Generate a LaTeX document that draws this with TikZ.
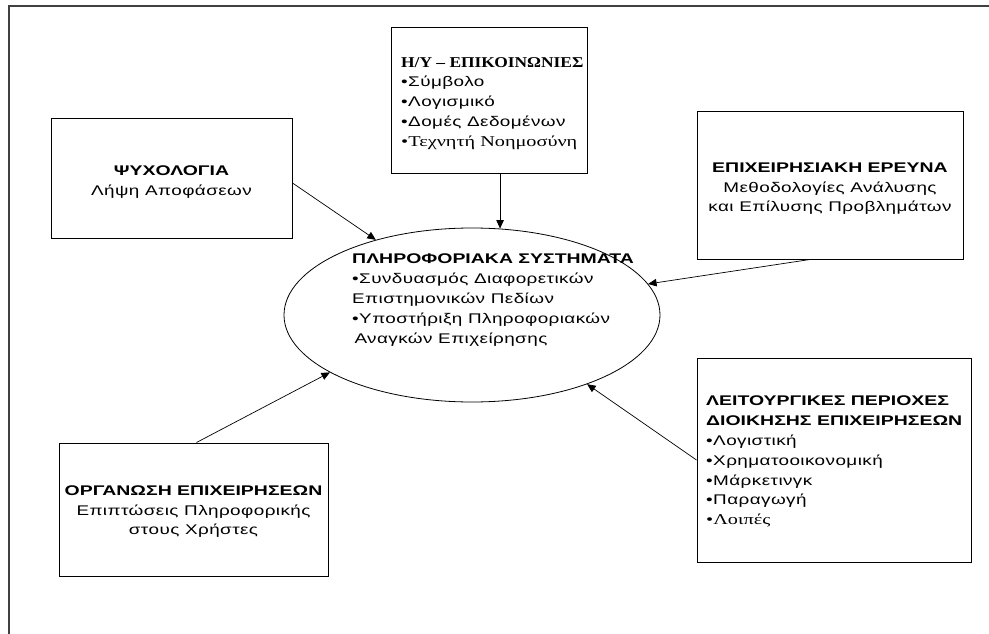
\documentclass[tikz,border=0pt]{standalone}
\usepackage{fontspec}
\setmainfont{Liberation Sans}[FakeStretch=1.35, LetterSpace=3, BoldFeatures={FakeStretch=1.39, LetterSpace=0}]
\newfontfamily\serifgr{Liberation Serif}[FakeStretch=1.35, BoldFeatures={FakeStretch=1.16}]
\usetikzlibrary{shapes.geometric,arrows.meta,calc}

\begin{document}
\begin{tikzpicture}[x=1pt,y=-1pt,
  box/.style={draw, line width=1pt, rectangle, inner sep=0pt},
  txt/.style={font=\fontsize{14}{19.5}\selectfont, align=center, inner sep=0pt},
  ltxt/.style={font=\fontsize{14}{19.8}\selectfont, align=left, inner sep=0pt},
  link/.style={line width=0.7pt, -{Triangle[length=8.5pt,width=7.5pt]}}
]
\useasboundingbox (0,0) rectangle (989,634);
\fill[white] (0,0) rectangle (989,634);

% page frame (top and left edges only)
\draw[line width=1.3pt, black!75] (989,6) -- (9,6) -- (9,634);

% central ellipse
\node[draw, ellipse, line width=0.8pt, minimum width=376pt, minimum height=174pt, inner sep=0pt] (ie) at (472,315) {};
\node[ltxt, anchor=north west] (iet) at (352,254) {%
\textbf{ΠΛΗΡΟΦΟΡΙΑΚΑ ΣΥΣΤΗΜΑΤΑ}\\
•Συνδυασμός Διαφορετικών\\
Επιστημονικών Πεδίων\\
•Υποστήριξη Πληροφοριακών\\
\,Αναγκών Επιχείρησης};

% top box
\node[box, minimum width=196pt, minimum height=145pt] (hy) at (489,100.5) {};
\node[ltxt, anchor=north west] (hyt) at (401,57) {%
{\serifgr\fontsize{15}{19.8}\selectfont\textbf{Η/Υ – ΕΠΙΚΟΙΝΩΝΙΕΣ}}\\
•Σύμβολο\\
•Λογισμικό\\
•Δομές Δεδομένων\\
{\serifgr\fontsize{15}{19.8}\selectfont •Τεχνητή Νοημοσύνη}};

% upper left box
\node[box, minimum width=241pt, minimum height=119pt] (psy) at (171.5,178.5) {};
\node[txt] (psyt) at (171.5,182) {\textbf{ΨΥΧΟΛΟΓΙΑ}\\Λήψη Αποφάσεων};

% upper right box
\node[box, minimum width=266pt, minimum height=147pt] (er) at (830,185.5) {};
\node[txt] (ert) at (830,189) {\textbf{ΕΠΙΧΕΙΡΗΣΙΑΚΗ ΕΡΕΥΝΑ}\\Μεθοδολογίες Ανάλυσης\\και Επίλυσης Προβλημάτων};

% lower left box
\node[box, minimum width=269pt, minimum height=133pt] (org) at (193.5,509.5) {};
\node[txt] (orgt) at (193.5,512) {\textbf{ΟΡΓΑΝΩΣΗ ΕΠΙΧΕΙΡΗΣΕΩΝ}\\Επιπτώσεις Πληροφορικής\\στους Χρήστες};

% lower right box
\node[box, minimum width=274pt, minimum height=204pt] (leit) at (834,460) {};
\node[ltxt, anchor=north west] (leitt) at (706,396) {%
\textbf{ΛΕΙΤΟΥΡΓΙΚΕΣ ΠΕΡΙΟΧΕΣ}\\
\textbf{ΔΙΟΙΚΗΣΗΣ ΕΠΙΧΕΙΡΗΣΕΩΝ}\\
•Λογιστική\\
•Χρηματοοικονομική\\
•Μάρκετινγκ\\
•Παραγωγή\\
{\serifgr\fontsize{15}{19.8}\selectfont •Λοιπές}};

% connectors into the ellipse
\draw[link] (hy.south -| ie.72) -- (ie.72);
\draw[link] ($(psy.east)+(0,4.5)$) -- (ie.142);
\draw[link] ($(er.south)+(-20,0)$) -- (ie.10);
\draw[link] ($(org.north)+(3,0)$) -- (ie.202);
\draw[link] (leit.west) -- (ie.329);
\end{tikzpicture}
\end{document}
